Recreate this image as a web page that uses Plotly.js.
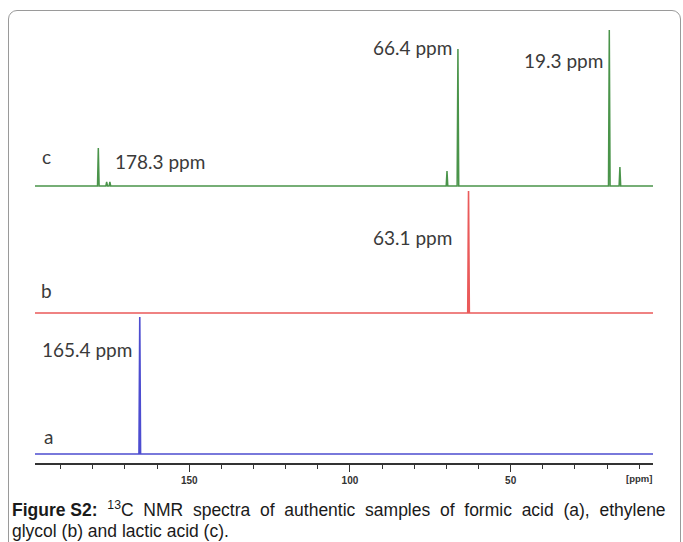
<!DOCTYPE html>
<html>
<head>
<meta charset="utf-8">
<script src="https://cdn.plot.ly/plotly-3.0.1.min.js"></script>
<style>
  html, body { margin: 0; padding: 0; background: #fff; }
  #wrap { position: relative; width: 683px; height: 542px; overflow: hidden; }
  #chart { position: absolute; left: 0; top: 0; width: 683px; height: 542px; }
  #frame { position: absolute; left: 8px; top: 10px; width: 673px; height: 620px;
           border: 1.5px solid #9a9a9a; border-radius: 9px; pointer-events: none; box-sizing: border-box; }
</style>
</head>
<body>
<div id="wrap"><div id="chart"></div><div id="frame"></div></div>
<script>
// ---- data: peak positions (ppm) and relative intensities (arbitrary units) ----
const peaksA_ppm = [165.4];
const peaksA_int = [137];
const peaksB_ppm = [63.1];
const peaksB_int = [122];
const peaksC_ppm = [178.3, 175.7, 174.7, 69.8, 66.4, 19.3, 16.0];
const peaksC_int = [38, 4, 4, 15, 137, 156, 19];
const labelsABC = ['a', 'b', 'c'];
const peakLabels = ['165.4 ppm', '63.1 ppm', '178.3 ppm', '66.4 ppm', '19.3 ppm'];
const tickVals = [150, 100, 50];
const tickText = ['150', '100', '50'];
const captionLine1 = ['<b>Figure S2:</b>', '<sup>13</sup>C', 'NMR', 'spectra', 'of', 'authentic', 'samples', 'of', 'formic', 'acid', '(a),', 'ethylene'];
const captionLine2 = 'glycol (b) and lactic acid (c).';

// ---- geometry / style ----
const W = 683, H = 542;
const mL = 35, mR = 30, mT = 20, mB = 79;
const plotW = W - mL - mR, plotH = H - mT - mB;
const xRange = [198.0, 5.7];
const offsets = {a: 9, b: 150, c: 277};
const halfWidth = 0.25;

function spectrum(ppm, inten, off) {
  const order = ppm.map((p, i) => i).sort((i, j) => ppm[j] - ppm[i]);
  const xs = [xRange[0]], ys = [off];
  order.forEach(i => {
    xs.push(ppm[i] + halfWidth, ppm[i], ppm[i] - halfWidth);
    ys.push(off, off + inten[i], off);
  });
  xs.push(xRange[1]); ys.push(off);
  return {xs, ys};
}

const sA = spectrum(peaksA_ppm, peaksA_int, offsets.a);
const sB = spectrum(peaksB_ppm, peaksB_int, offsets.b);
const sC = spectrum(peaksC_ppm, peaksC_int, offsets.c);

const traces = [
  {x: sA.xs, y: sA.ys, mode: 'lines', line: {color: '#4d4dd0', width: 1.6}, hoverinfo: 'skip'},
  {x: sB.xs, y: sB.ys, mode: 'lines', line: {color: '#ea5a5a', width: 1.6}, hoverinfo: 'skip'},
  {x: sC.xs, y: sC.ys, mode: 'lines', line: {color: '#4a944a', width: 1.5}, hoverinfo: 'skip'}
];

const px = x => (x - mL) / plotW;
const py = y => (H - mB - y) / plotH;
const lblFont = {family: 'Lato, "Open Sans", sans-serif', size: 19, color: '#3a3a3a'};
const capFont = {family: 'Liberation Sans, Arial, sans-serif', size: 17.5, color: '#1a1a1a'};

function lab(text, xPix, yPix, anchor, font) {
  return {text, x: px(xPix), y: py(yPix), xref: 'paper', yref: 'paper',
          xanchor: anchor || 'center', yanchor: 'middle', showarrow: false, font: font || lblFont};
}

const annotations = [
  lab(labelsABC[0], 48, 436),
  lab(labelsABC[1], 46, 290),
  lab(labelsABC[2], 46, 157),
  lab(peakLabels[0], 87, 349),
  lab(peakLabels[1], 413, 237),
  lab(peakLabels[2], 160, 161),
  lab(peakLabels[3], 413, 48),
  lab(peakLabels[4], 563, 61),
  {text: '[ppm]', x: 10, xref: 'x', y: py(478), yref: 'paper', xanchor: 'center', yanchor: 'middle',
   showarrow: false, font: {family: 'Liberation Sans, Arial, sans-serif', size: 9.5, color: '#333', weight: 'bold'}},
  // caption: first line justified (wider word gaps), second line normal
  lab(captionLine1.join(' \u00a0'), 10, 509, 'left', capFont),
  lab(captionLine2, 10, 531, 'left', capFont)
];

const layout = {
  width: W, height: H,
  margin: {l: mL, r: mR, t: mT, b: mB, pad: 0},
  paper_bgcolor: '#fff', plot_bgcolor: '#fff',
  showlegend: false,
  xaxis: {
    range: xRange, showgrid: false, zeroline: false,
    showline: true, linecolor: '#333', linewidth: 1.5,
    ticks: 'outside', ticklen: 7, tickwidth: 1, tickcolor: '#333',
    tickmode: 'array', tickvals: tickVals, ticktext: tickText,
    tickfont: {family: 'Liberation Sans, Arial, sans-serif', size: 10, color: '#333', weight: 'bold'},
    minor: {tickmode: 'linear', tick0: 0, dtick: 10, ticks: 'outside', ticklen: 4, tickcolor: '#333', tickwidth: 1, showgrid: false}
  },
  yaxis: {range: [0, plotH], visible: false, showgrid: false, zeroline: false, fixedrange: true},
  annotations
};

Plotly.newPlot('chart', traces, layout, {staticPlot: true, displayModeBar: false});
</script>
</body>
</html>
